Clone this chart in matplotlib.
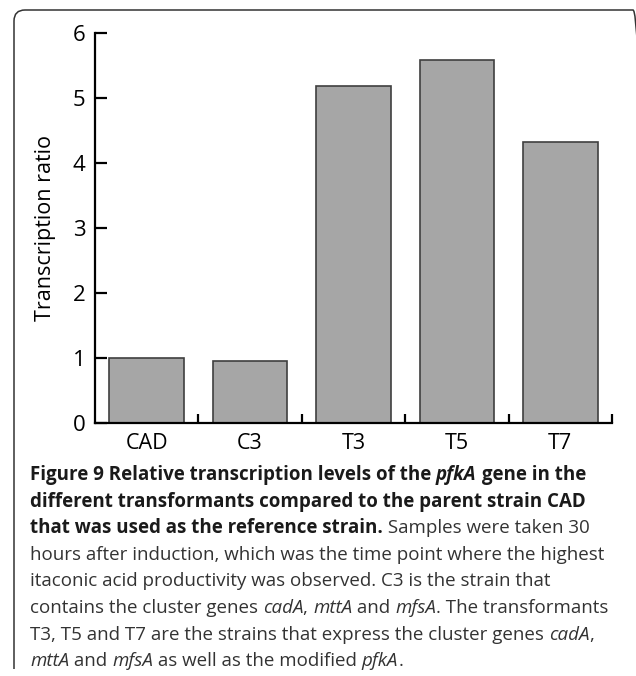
import matplotlib
matplotlib.use("Agg")
import matplotlib.pyplot as plt
from matplotlib.patches import FancyBboxPatch
from matplotlib.transforms import IdentityTransform, Bbox
from matplotlib.font_manager import FontProperties

strains = ["CAD", "C3", "T3", "T5", "T7"]
ratio = [1.0, 0.96, 5.18, 5.58, 4.32]
yticks = [0, 1, 2, 3, 4, 5, 6]

caption = [
    [("Figure 9 Relative transcription levels of the ", "b"), ("pfkA", "bi"), (" gene in the", "b")],
    [("different transformants compared to the parent strain CAD", "b")],
    [("that was used as the reference strain.", "b"), (" Samples were taken 30", "r")],
    [("hours after induction, which was the time point where the highest", "r")],
    [("itaconic acid productivity was observed. C3 is the strain that", "r")],
    [("contains the cluster genes ", "r"), ("cadA", "i"), (", ", "r"), ("mttA", "i"),
     (" and ", "r"), ("mfsA", "i"), (". The transformants", "r")],
    [("T3, T5 and T7 are the strains that express the cluster genes ", "r"), ("cadA", "i"), (",", "r")],
    [("mttA", "i"), (" and ", "r"), ("mfsA", "i"), (" as well as the modified ", "r"), ("pfkA", "i"), (".", "r")],
]

W, H = 636, 676
fig = plt.figure(figsize=(W / 100, H / 100), dpi=100)
plt.rcParams["font.family"] = "Open Sans"

# rounded frame, open at the bottom, right side just off the picture
frame = FancyBboxPatch((14, -60), 630, H - 10 + 60, boxstyle="round,pad=0,rounding_size=11",
                       transform=IdentityTransform(), fill=False, edgecolor="#333333", linewidth=1.1)
fig.add_artist(frame)
frame.set_clip_box(Bbox([[0, 7], [W, H]]))

ax = fig.add_axes([95 / W, (H - 423) / H, (612 - 95) / W, (423 - 33) / H])
x = list(range(len(strains)))
ax.bar(x, ratio, width=0.72, color="#a6a6a6", edgecolor="#3f3f3f", linewidth=1.2, zorder=2)
ax.set_xlim(-0.5, len(strains) - 0.5)
ax.set_ylim(0, 6)
ax.spines["top"].set_visible(False)
ax.spines["right"].set_visible(False)
for s in ("left", "bottom"):
    ax.spines[s].set_linewidth(1.6)
    ax.spines[s].set_capstyle("projecting")
ax.set_yticks(yticks)
ax.tick_params(axis="y", direction="in", length=8.5, width=1.6, pad=7, labelsize=16)
ax.set_xticks([i + 0.5 for i in x])
ax.set_xticklabels([])
ax.tick_params(axis="x", which="major", direction="in", length=6.5, width=1.6)
ax.set_xticks(x, minor=True)
ax.set_xticklabels(strains, minor=True)
ax.tick_params(axis="x", which="minor", length=0, pad=7, labelsize=15.5)
ax.set_ylabel("Transcription ratio", fontsize=15.5)
ax.yaxis.set_label_coords(-0.076, 0.5)

# caption
r = fig.canvas.get_renderer()


def fprop(style, size):
    return FontProperties(family="Open Sans",
                          weight="bold" if "b" in style else "normal",
                          style="italic" if "i" in style else "normal",
                          size=size)


def adv(s, fp):
    t = fig.text(0, 0, s + "|", fontproperties=fp)
    w1 = t.get_window_extent(r).width
    t.set_text("|")
    w0 = t.get_window_extent(r).width
    t.remove()
    return w1 - w0


base = 12.0
w_ref = adv(caption[3][0][0], fprop("r", base))
size = base * 573 / w_ref

colors = {"b": "#1a1a1a", "bi": "#1a1a1a", "r": "#333333", "i": "#333333"}
x0 = 30
for i, line in enumerate(caption):
    ybase = 480 + 26.6 * i
    cx = x0
    for text, style in line:
        fp = fprop(style, size)
        fig.text(cx / W, (H - ybase) / H, text, fontproperties=fp, color=colors[style], va="baseline", ha="left")
        cx += adv(text, fp)

fig.savefig("out.png", dpi=100)
